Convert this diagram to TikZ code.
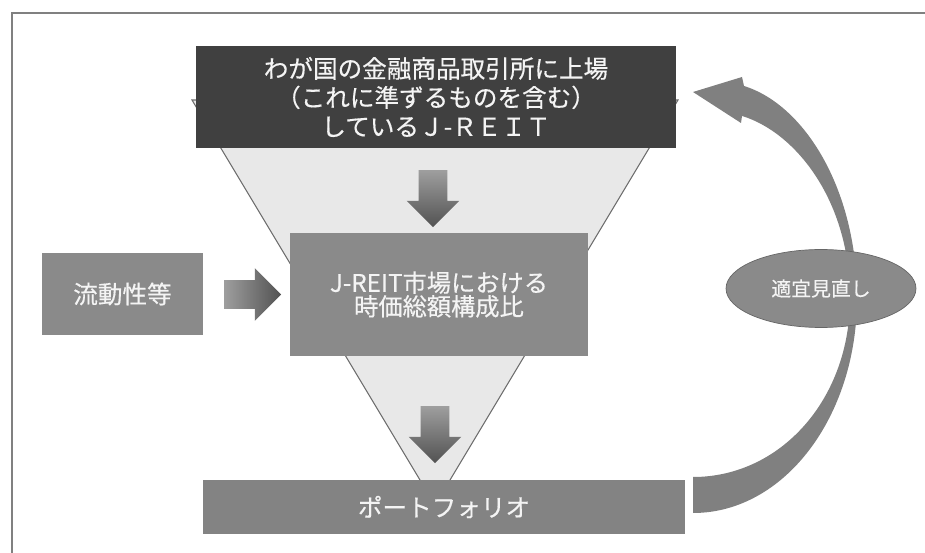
\documentclass[tikz,border=0pt]{standalone}
\usepackage{fontspec}
\newfontfamily\jp[FakeBold=0.4]{Noto Sans CJK JP}
\usetikzlibrary{shapes.geometric,shapes.arrows}
\definecolor{framegray}{HTML}{808080}
\definecolor{funnelfill}{HTML}{E8E8E8}
\definecolor{funneledge}{HTML}{6E6E6E}
\definecolor{topgray}{HTML}{404040}
\definecolor{boxgray}{HTML}{8A8A8A}
\definecolor{loopgray}{HTML}{808080}
\definecolor{boxtext}{HTML}{F4F4F4}
\begin{document}
\begin{tikzpicture}[x=0.02cm, y=-0.02cm,
    box/.style={fill=boxgray, text=boxtext, inner sep=0pt, align=center},
    blockarrow/.style={single arrow, draw=none, inner sep=0.28cm,
        minimum height=1.14cm, single arrow head extend=0.24cm}]
    \useasboundingbox (0,0) rectangle (925,553);

    % Frame
    \draw[framegray, line width=1.2pt] (12,553) -- (12,13) -- (925,13);

    % Funnel
    \draw[funneledge, fill=funnelfill, line width=0.6pt]
        (192,100) -- (678,100) -- (435,505) -- cycle;

    % Boxes
    \node[box, fill=topgray, minimum width=9.6cm, minimum height=2.06cm,
        font=\jp\fontsize{14}{16.5}\selectfont] (listed) at (436,97)
        {わが国の金融商品取引所に上場\\（これに準ずるものを含む）\\しているＪ-ＲＥＩＴ};
    \node[box, minimum width=5.96cm, minimum height=2.46cm,
        font=\jp\fontsize{13.8}{13.5}\selectfont] (ratio) at (439,294.5)
        {J-REIT市場における\\時価総額構成比};
    \node[box, minimum width=3.22cm, minimum height=1.64cm,
        font=\jp\fontsize{14}{16}\selectfont] (liquid) at (122.5,294) {流動性等};
    \node[box, fill=boxgray!95!black, minimum width=9.64cm, minimum height=1.08cm,
        font=\jp\fontsize{14}{16}\selectfont] (port) at (444,507) {ポートフォリオ};

    % Block arrows
    \node[blockarrow, shape border rotate=270, top color=black!38, bottom color=black!68]
        (down1) at (433,191.5) {};
    \node[blockarrow, shape border rotate=270, top color=black!38, bottom color=black!68]
        (down2) at (435,427.5) {};
    \node[blockarrow, left color=black!38, right color=black!68]
        (right1) at (245.5,294.5) {};

    % Review loop
    \fill[loopgray] (693,513) .. controls (784,513) and (857,417) .. (857,298)
        .. controls (857,190) and (805,105) .. (744,86)
        -- (742,77) -- (693,92) -- (741,123) -- (742,116)
        .. controls (795,132) and (850,200) .. (850,298)
        .. controls (850,400) and (780,477) .. (693,477) -- cycle;
    \node[ellipse, draw=black!60, fill=boxgray, text=boxtext, inner sep=0pt,
        minimum width=3.8cm, minimum height=1.56cm,
        font=\jp\fontsize{11.3}{13}\selectfont] (review) at (821,288.5) {適宜見直し};
\end{tikzpicture}
\end{document}
